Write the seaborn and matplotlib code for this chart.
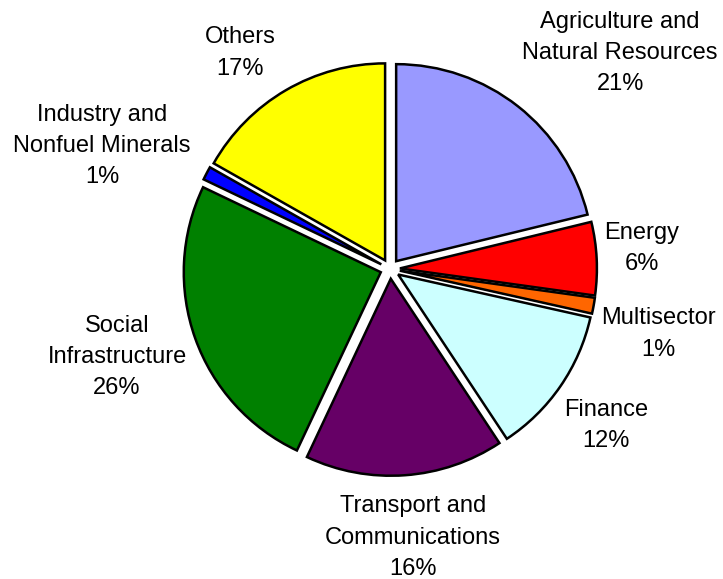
import numpy as np
import pandas as pd
import matplotlib
matplotlib.use("Agg")
import matplotlib.pyplot as plt
import seaborn as sns

# sectors, clockwise from 12 o'clock
sectors = ["Agriculture and\nNatural Resources", "Energy", "Multisector", "Finance",
           "Transport and\nCommunications", "Social\nInfrastructure",
           "Industry and\nNonfuel Minerals", "Others"]
shares = [21.2, 6.0, 1.3, 12.2, 16.3, 25.1, 1.1, 16.8]
pct_labels = ["21%", "6%", "1%", "12%", "16%", "26%", "1%", "17%"]
colors = ["#9999FF", "#FF0000", "#FF6600", "#CCFFFF", "#660066", "#008000", "#0000FF", "#FFFF00"]

# where each label sits (pie radius = 1)
label_pos = [(1.168, 1.096), (1.279, 0.102), (1.360, -0.330), (1.096, -0.796),
             (0.117, -1.365), (-1.386, -0.447), (-1.462, 0.624), (-0.761, 1.096)]

df = pd.DataFrame({"sector": sectors, "share": shares, "pct": pct_labels})

sns.set_style("white")
plt.rcParams["font.family"] = ["Liberation Sans", "DejaVu Sans"]

fig = plt.figure(figsize=(7.23, 5.79), dpi=100)
ax = fig.add_axes([0, 0, 1, 1])

wedges, _ = ax.pie(df["share"], colors=colors, startangle=90, counterclock=False,
                   explode=[0.05] * len(df), radius=1,
                   wedgeprops=dict(edgecolor="black", linewidth=1.8))

for (x, y), name, pct in zip(label_pos, df["sector"], df["pct"]):
    ax.text(x, y, f"{name}\n{pct}", ha="center", va="center", fontsize=17,
            color="black", linespacing=1.55, multialignment="center")

ax.set_xlim(-1.980, 1.690)
ax.set_ylim(-1.574, 1.365)
ax.set_aspect("auto")
ax.axis("off")

fig.savefig("out.png", dpi=100, facecolor="white")
